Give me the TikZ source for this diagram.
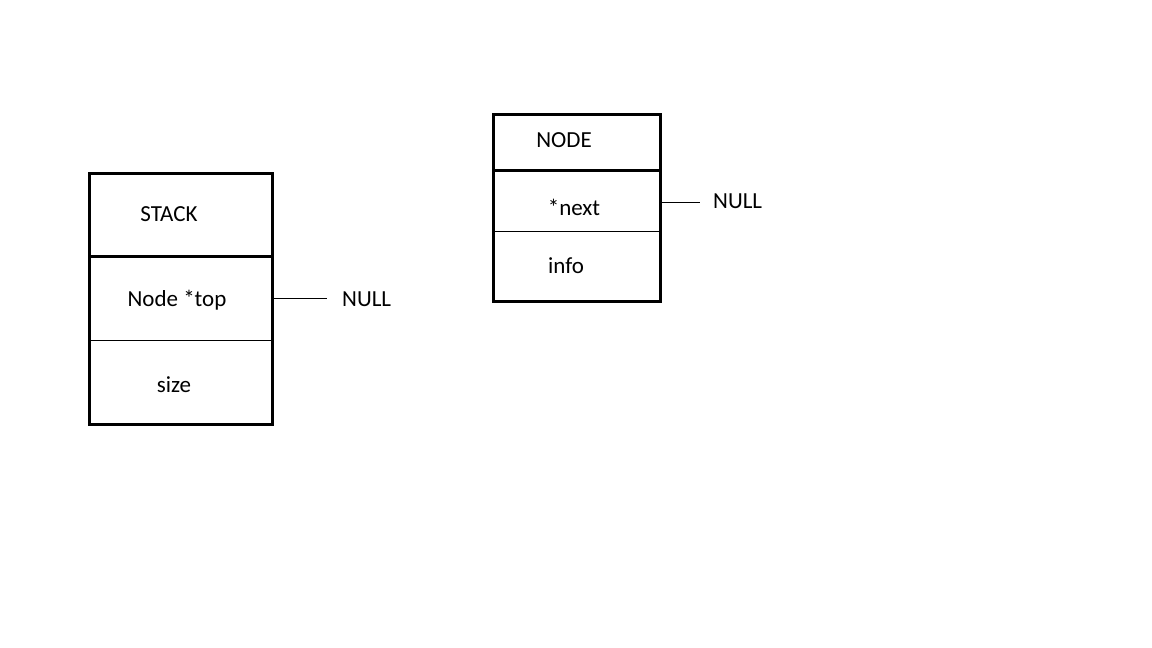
\documentclass[tikz,border=0pt]{standalone}
\usepackage{fontspec}
\setmainfont{Carlito}
\begin{document}
\begin{tikzpicture}[x=1pt,y=-1pt,
  cell/.style={draw,line width=1pt,rectangle,inner sep=0pt,anchor=north west},
  frame/.style={line width=3pt},
  lbl/.style={font=\fontsize{23}{26}\selectfont,inner sep=0pt},
  link/.style={line width=1pt}]
\useasboundingbox (0,0) rectangle (1152,648);
% STACK
\node[cell,minimum width=182pt,minimum height=82pt] (shead) at (89,173) {};
\node[cell,minimum width=182pt,minimum height=85pt] (stop) at (89,255) {};
\node[cell,minimum width=182pt,minimum height=83pt] (ssize) at (89,340) {};
\draw[frame] (shead.north west) rectangle (ssize.south east);
\draw[frame] (shead.south west) -- (shead.south east);
\node[lbl] (tstack) at (169,214) {STACK};
\node[lbl] (ttop) at (177,300) {Node *top};
\node[lbl] (tsize) at (174,385) {size};
\node[lbl,anchor=west] (null1) at (342,299) {NULL};
\draw[link,shorten >=15pt] (stop.east) -- (null1.west |- stop.east);
% NODE
\node[cell,minimum width=166pt,minimum height=55pt] (nhead) at (493,114) {};
\node[cell,minimum width=166pt,minimum height=62pt] (nnext) at (493,169) {};
\node[cell,minimum width=166pt,minimum height=69pt] (ninfo) at (493,231) {};
\draw[frame] (nhead.north west) rectangle (ninfo.south east);
\draw[frame] (nhead.south west) -- (nhead.south east);
\node[lbl] (tnode) at (564,140) {NODE};
\node[lbl] (tnext) at (574,207) {*next};
\node[lbl] (tinfo) at (566,266) {info};
\node[lbl,anchor=west] (null2) at (713,201) {NULL};
\draw[link,shorten >=13pt] ([yshift=-2pt]nnext.east) -- ([yshift=-2pt]null2.west |- nnext.east);
\end{tikzpicture}
\end{document}
